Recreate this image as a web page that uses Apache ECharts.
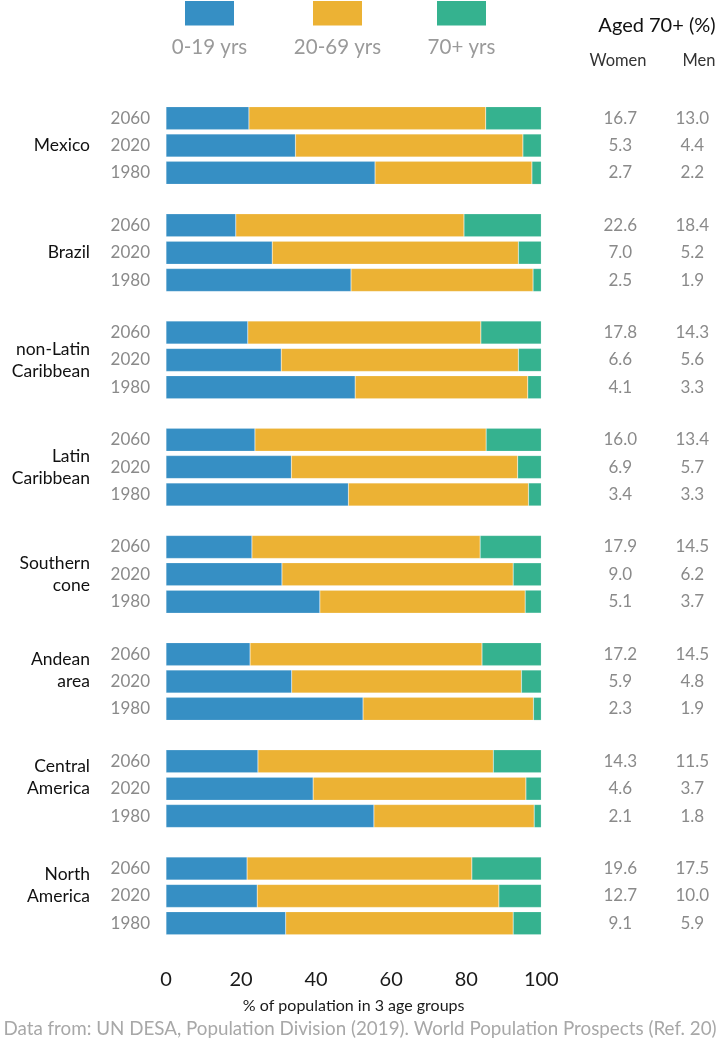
<!DOCTYPE html>
<html>
<head>
<meta charset="utf-8">
<script src="https://cdn.jsdelivr.net/npm/echarts@6/dist/echarts.min.js"></script>
<style>html,body{margin:0;padding:0;background:#fff}#c{width:722px;height:1041px}</style>
</head>
<body>
<div id="c"></div>
<script>
// ---- data ----
const regions = ['Mexico', 'Brazil', 'non-Latin\nCaribbean', 'Latin\nCaribbean', 'Southern\ncone', 'Andean\narea', 'Central\nAmerica', 'North\nAmerica'];
const years = ['2060', '2020', '1980'];
const seriesNames = ['0-19 yrs', '20-69 yrs', '70+ yrs'];
// per region: [2060, 2020, 1980]
const age0_19 = [
  [22.1, 34.5, 55.7], [18.6, 28.3, 49.3], [21.8, 30.7, 50.4], [23.7, 33.4, 48.6],
  [22.9, 30.9, 41.0], [22.4, 33.5, 52.5], [24.5, 39.2, 55.4], [21.6, 24.3, 31.9]
];
const age20_69 = [
  [63.1, 60.6, 41.8], [60.8, 65.6, 48.5], [62.1, 63.2, 46.0], [61.6, 60.3, 48.0],
  [60.8, 61.6, 54.7], [61.8, 61.2, 45.4], [62.7, 56.7, 42.7], [59.9, 64.4, 60.6]
];
const age70plus = [
  [14.8, 4.9, 2.5], [20.6, 6.1, 2.2], [16.1, 6.1, 3.6], [14.7, 6.3, 3.4],
  [16.3, 7.5, 4.3], [15.8, 5.3, 2.1], [12.8, 4.1, 1.9], [18.5, 11.3, 7.5]
];
const women70 = [
  ['16.7', '5.3', '2.7'], ['22.6', '7.0', '2.5'], ['17.8', '6.6', '4.1'], ['16.0', '6.9', '3.4'],
  ['17.9', '9.0', '5.1'], ['17.2', '5.9', '2.3'], ['14.3', '4.6', '2.1'], ['19.6', '12.7', '9.1']
];
const men70 = [
  ['13.0', '4.4', '2.2'], ['18.4', '5.2', '1.9'], ['14.3', '5.6', '3.3'], ['13.4', '5.7', '3.3'],
  ['14.5', '6.2', '3.7'], ['14.5', '4.8', '1.9'], ['11.5', '3.7', '1.8'], ['17.5', '10.0', '5.9']
];
const xTicks = [0, 20, 40, 60, 80, 100];

// ---- styles ----
const colors = ['#368fc4', '#ecb234', '#35b28f'];
const FONT = 'Lato, "Open Sans", sans-serif';
const GRID_LEFT = 166, GRID_W = 375.3, TOP0 = 104.5, PITCH = 107.2, GH = 82;
// region names whose two lines sit beside the 2060/2020 rows instead of being centred
const raiseName = [false, false, false, false, false, true, true, true];

const grids = [], xAxes = [], yAxes = [], series = [];
regions.forEach((r, k) => {
  grids.push({ left: GRID_LEFT, width: GRID_W, top: TOP0 + k * PITCH, height: GH });
  const last = k === regions.length - 1;
  xAxes.push({
    gridIndex: k, type: 'value', min: xTicks[0], max: xTicks[xTicks.length - 1], interval: 20,
    axisLine: { show: false }, axisTick: { show: false }, splitLine: { show: false },
    axisLabel: { show: last, margin: 33, color: '#1a1a1a', fontSize: 20, fontFamily: FONT },
    name: last ? '% of population in 3 age groups' : '', nameLocation: 'middle', nameGap: 61,
    nameTextStyle: { color: '#1a1a1a', fontSize: 16, fontFamily: FONT }
  });
  // year labels
  yAxes.push({
    gridIndex: k, type: 'category', data: years, inverse: true,
    axisLine: { show: false }, axisTick: { show: false },
    axisLabel: { margin: 16, color: '#8a8a8a', fontSize: 17, fontFamily: FONT }
  });
  // region name
  yAxes.push({
    gridIndex: k, type: 'category', data: years, inverse: true, position: 'left',
    axisLine: { show: false }, axisTick: { show: false },
    axisLabel: {
      margin: 76, color: '#111', fontSize: 17.5, lineHeight: 22, fontFamily: FONT, align: 'right',
      formatter: (v, i) => (i === 1 ? (raiseName[k] ? r + '\n ' : r) : '')
    }
  });
  // women / men values
  yAxes.push({
    gridIndex: k, type: 'category', data: years, inverse: true, position: 'right',
    axisLine: { show: false }, axisTick: { show: false },
    axisLabel: {
      margin: 44, fontFamily: FONT,
      formatter: (v, i) => '{w|' + women70[k][i] + '}{m|' + men70[k][i] + '}',
      rich: {
        w: { width: 70, align: 'center', color: '#8a8a8a', fontSize: 17, fontFamily: FONT },
        m: { width: 74, align: 'center', color: '#8a8a8a', fontSize: 17, fontFamily: FONT }
      }
    }
  });
  const yi = k * 3;
  [age0_19, age20_69, age70plus].forEach((arr, s) => {
    series.push({
      name: seriesNames[s], type: 'bar', stack: 'r' + k,
      xAxisIndex: k, yAxisIndex: yi, barWidth: 23,
      itemStyle: { color: colors[s], borderColor: 'rgba(255,255,255,0.35)', borderWidth: 0.5 },
      data: arr[k], silent: true
    });
  });
});

const g = [];
const legendX = [185, 313, 437];
const txt = (x, y, text, fill, size) => ({
  type: 'text', x: x, y: y,
  style: { text: text, fill: fill, fontSize: size, fontFamily: FONT, align: 'center', verticalAlign: 'middle', textAlign: 'center', textVerticalAlign: 'middle' }
});
seriesNames.forEach((n, i) => {
  g.push({ type: 'rect', shape: { x: legendX[i], y: 1, width: 49, height: 24.5 }, style: { fill: colors[i] } });
  g.push(txt(legendX[i] + 24.5, 47, n, '#9a9a9a', 20.5));
});
g.push(txt(657, 26, 'Aged 70+ (%)', '#111', 20));
g.push(txt(618, 61, 'Women', '#333', 16.5));
g.push(txt(699, 61, 'Men', '#333', 16.5));
g.push(txt(360, 1029, 'Data from: UN DESA, Population Division (2019). World Population Prospects (Ref. 20)', '#a8a8a8', 18.8));

const chart = echarts.init(document.getElementById('c'), null, { renderer: 'canvas' });
chart.setOption({
  animation: false,
  backgroundColor: '#fff',
  grid: grids, xAxis: xAxes, yAxis: yAxes, series: series,
  graphic: g
});
</script>
</body>
</html>
